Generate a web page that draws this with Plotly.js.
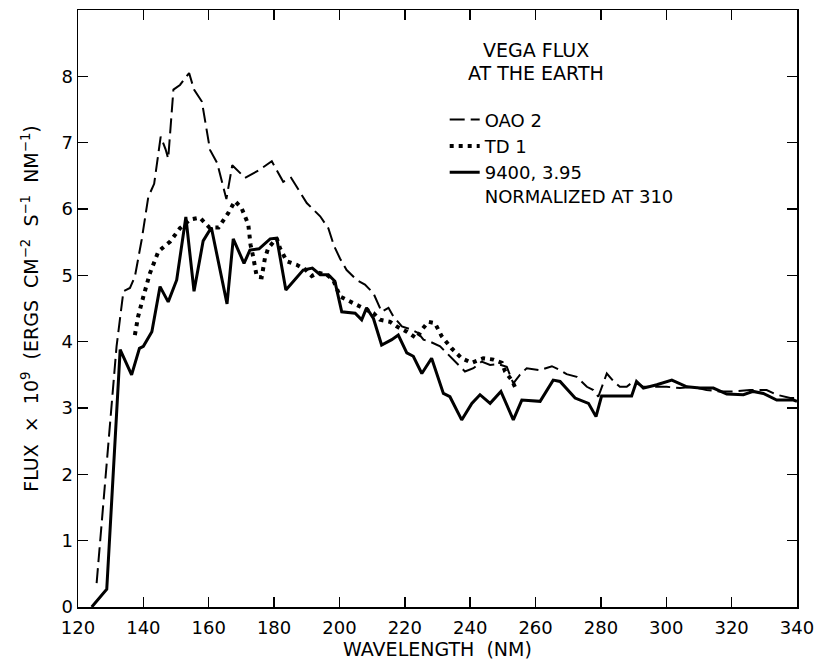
<!DOCTYPE html>
<html>
<head>
<meta charset="utf-8">
<script src="https://cdn.plot.ly/plotly-3.0.1.min.js"></script>
<style>html,body{margin:0;padding:0;background:#fff;}#chart{width:816px;height:664px;}</style>
</head>
<body>
<div id="chart"></div>
<script>
// OAO 2 (dashed)
const oaoWave = [125.7,131.8,133.9,135.9,137.4,139.5,141.5,143.3,145.3,146.8,147.6,149.2,151.2,154.0,155.5,157.9,160.4,162.6,165.4,167.2,171.1,175.2,179.3,182.8,185.2,188.9,190.0,194.1,196.6,198.3,200.2,202.2,205.3,207.8,210.4,212.9,215.0,216.5,219.1,222.1,224.1,225.7,227.7,230.8,233.3,236.4,238.4,241.0,243.5,246.1,248.6,251.2,253.2,255.2,257.3,261.4,265.0,267.5,269.5,272.6,275.7,277.7,279.2,281.8,283.9,285.8,287.9,289.9,293.0,296.1,300.1,304.2,308.3,312.3,316.4,320.5,325.6,330.7,333.8,337.9,340.0];
const oaoFlux = [0.36,3.93,4.76,4.81,4.98,5.54,6.18,6.38,7.09,6.90,6.76,7.80,7.87,8.05,7.80,7.62,6.89,6.69,6.15,6.66,6.47,6.58,6.72,6.41,6.47,6.16,6.09,5.89,5.71,5.45,5.25,5.08,4.93,4.86,4.73,4.45,4.51,4.38,4.23,4.18,4.13,4.03,4.00,3.93,3.80,3.65,3.55,3.60,3.70,3.65,3.66,3.62,3.37,3.50,3.60,3.57,3.63,3.57,3.51,3.47,3.32,3.27,3.17,3.52,3.40,3.32,3.32,3.40,3.32,3.32,3.32,3.30,3.32,3.27,3.25,3.25,3.27,3.27,3.20,3.15,3.15];

// TD 1 (dotted)
const tdWave = [137.4,138.4,140.0,142.0,144.6,148.2,151.2,154.3,157.3,160.2,163.0,166.0,168.0,170.0,172.1,172.8,173.6,174.7,176.2,177.2,178.2,180.8,181.8,183.9,186.9,189.5,191.5,193.5,196.1,198.1,200.2,203.2,206.3,210.4,212.4,215.5,217.5,220.6,223.6,225.2,227.2,229.2,231.3,234.3,237.4,240.5,244.0,247.1,249.7,250.7,252.7,253.7];
const tdFlux = [4.10,4.38,4.68,5.03,5.36,5.51,5.71,5.84,5.87,5.72,5.72,5.94,6.12,6.02,5.77,5.46,5.28,4.98,4.97,5.26,5.41,5.56,5.41,5.21,5.16,5.09,4.99,5.04,5.01,4.93,4.68,4.60,4.53,4.43,4.33,4.30,4.23,4.15,4.05,4.18,4.30,4.28,4.08,3.90,3.75,3.68,3.75,3.73,3.68,3.55,3.42,3.32];

// Model 9400, 3.95 normalized at 310 (solid)
const modelWave = [124.2,128.8,132.9,136.4,138.8,140.0,142.6,145.1,147.6,150.2,153.0,155.5,158.3,160.8,165.6,167.5,170.8,172.6,175.4,178.8,180.8,183.6,188.9,191.7,194.1,196.6,198.6,200.7,204.8,206.8,208.3,210.4,212.9,216.0,218.0,220.6,222.6,225.2,228.2,231.8,233.8,237.4,240.5,243.0,246.1,249.4,253.2,255.8,261.4,265.4,267.5,272.1,276.2,278.5,280.2,289.4,290.9,293.0,297.1,301.7,306.3,310.3,314.4,318.5,323.6,326.6,329.7,333.8,338.9,340.0];
const modelFlux = [0.00,0.27,3.88,3.50,3.90,3.93,4.15,4.83,4.60,4.93,5.88,4.76,5.52,5.72,4.57,5.55,5.18,5.38,5.40,5.55,5.56,4.78,5.08,5.11,5.01,5.01,4.91,4.45,4.43,4.33,4.51,4.35,3.95,4.03,4.10,3.83,3.78,3.52,3.75,3.22,3.17,2.82,3.07,3.20,3.07,3.25,2.82,3.12,3.10,3.42,3.40,3.15,3.07,2.87,3.18,3.18,3.40,3.30,3.35,3.42,3.32,3.30,3.30,3.21,3.20,3.25,3.22,3.12,3.12,3.10];

const xTicks = [120,140,160,180,200,220,240,260,280,300,320,340];
const yTicks = [0,1,2,3,4,5,6,7,8,9];
const seriesNames = ['OAO 2', 'TD 1', '9400, 3.95<br>NORMALIZED AT 310'];
const legendTitle = ['VEGA FLUX', 'AT THE EARTH'];

const FONT = 'DejaVu Sans, Liberation Sans, sans-serif';
const NB = '\u00A0';

const traces = [
  {x: oaoWave, y: oaoFlux, mode: 'lines', name: seriesNames[0],
   line: {color: '#000', width: 2, dash: '15px,6px'}},
  {x: tdWave, y: tdFlux, mode: 'lines', name: seriesNames[1],
   line: {color: '#000', width: 4, dash: '4px,5px'}},
  {x: modelWave, y: modelFlux, mode: 'lines', name: seriesNames[2],
   line: {color: '#000', width: 3}}
];

const axisCommon = {
  showgrid: false, zeroline: false, showline: true, linecolor: '#000', linewidth: 1.5,
  mirror: 'ticks', ticks: 'inside', ticklen: 10, tickwidth: 1.5, tickcolor: '#000',
  tickfont: {family: FONT, size: 18, color: '#000'}
};

const yTitle = ['FLUX', '×', '10<sup>9</sup>', '(ERGS', 'CM<sup>−2</sup>', 'S<sup>−1</sup>', 'NM<sup>−1</sup>)'].join(' ' + NB);

const layout = {
  width: 816, height: 664,
  margin: {l: 78, r: 19, t: 10, b: 57},
  paper_bgcolor: '#fff', plot_bgcolor: '#fff',
  font: {family: FONT, color: '#000'},
  showlegend: true,
  legend: {
    x: 0.51, y: 0.847, xanchor: 'left', yanchor: 'top',
    bgcolor: 'rgba(0,0,0,0)', borderwidth: 0,
    font: {family: FONT, size: 18, color: '#000'},
    valign: 'top', tracegroupgap: 0
  },
  annotations: [
    {xref: 'paper', yref: 'paper', x: 0.637, y: 1 - (50 - 10) / 597, text: legendTitle[0], showarrow: false,
     xanchor: 'center', yanchor: 'middle', font: {family: FONT, size: 19, color: '#000'}},
    {xref: 'paper', yref: 'paper', x: 0.637, y: 1 - (73 - 10) / 597, text: legendTitle[1], showarrow: false,
     xanchor: 'center', yanchor: 'middle', font: {family: FONT, size: 19, color: '#000'}}
  ],
  xaxis: Object.assign({}, axisCommon, {
    range: [120, 340], tickvals: xTicks, ticktext: xTicks.map(String), ticklabelstandoff: 4,
    title: {text: 'WAVELENGTH' + NB + ' (NM)', font: {family: FONT, size: 19, color: '#000'}, standoff: 4}
  }),
  yaxis: Object.assign({}, axisCommon, {
    range: [0, 9], tickvals: yTicks, ticktext: yTicks.map(String),
    title: {text: yTitle, font: {family: FONT, size: 19, color: '#000'}, standoff: 18}
  })
};

Plotly.newPlot('chart', traces, layout, {displayModeBar: false, staticPlot: true});
</script>
</body>
</html>
